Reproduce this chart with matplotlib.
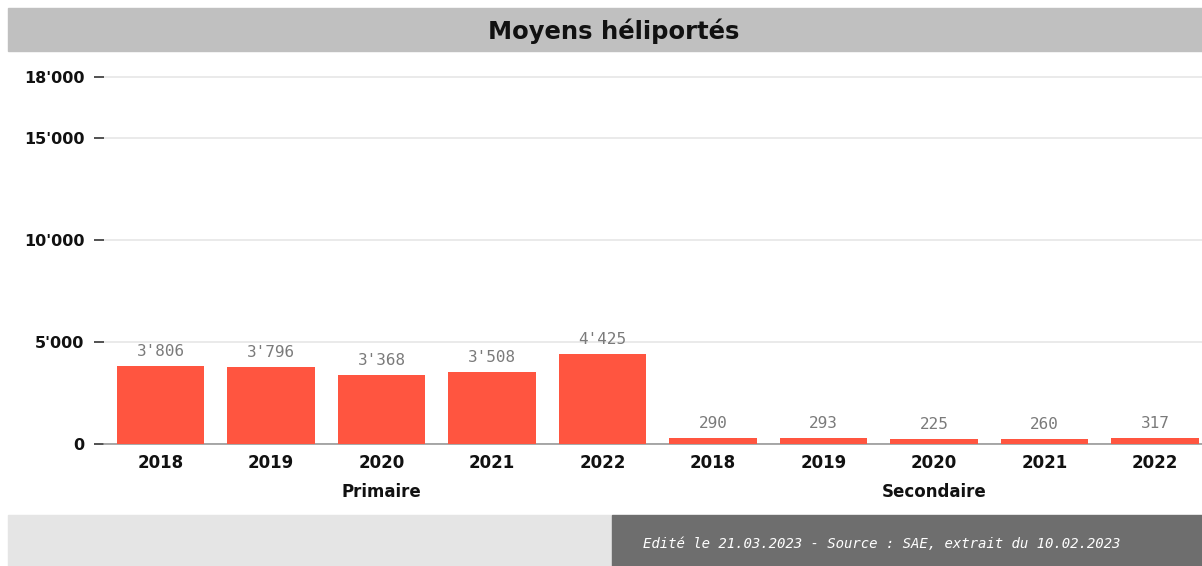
import numpy as np
import matplotlib.pyplot as plt
from matplotlib.patches import Rectangle

groups = ["Primaire", "Secondaire"]
years = ["2018", "2019", "2020", "2021", "2022"]
primaire = [3806, 3796, 3368, 3508, 4425]
secondaire = [290, 293, 225, 260, 317]
yticks = [0, 5000, 10000, 15000, 18000]

title = "Moyens héliportés"
footer = "Edité le 21.03.2023 - Source : SAE, extrait du 10.02.2023"

W, H = 1202, 566
fig = plt.figure(figsize=(W / 100, H / 100), dpi=100)
fig.patch.set_facecolor("white")

# title band and footer blocks (figure pixel coordinates)
def px_rect(x0, y0, x1, y1, color):
    fig.patches.append(Rectangle((x0 / W, 1 - y1 / H), (x1 - x0) / W, (y1 - y0) / H,
                                 transform=fig.transFigure, color=color, zorder=0))

px_rect(8, 8, W, 51, "#c0c0c0")
px_rect(8, 515, 612, H, "#e5e5e5")
px_rect(612, 515, W, H, "#6e6e6e")

fig.text(614 / W, 1 - 31 / H, title, ha="center", va="center", fontsize=17.5,
         fontweight="bold", family=["DejaVu Sans"], color="#111111")
fig.text(643 / W, 1 - 544 / H, footer, ha="left", va="center", fontsize=10.1,
         style="italic", family=["DejaVu Sans Mono"], color="white")

ax = fig.add_axes([104 / W, 1 - 444 / H, (W - 104) / W, (444 - 62) / H])
values = primaire + secondaire
labels = years + years
x = np.arange(len(values))
ax.bar(x, values, width=0.79, color="#ff5540", zorder=3)
ax.set_xlim(-0.511, 9.426)
ax.set_ylim(0, 18725)

for xi, v in zip(x, values):
    ax.annotate(f"{v:,}".replace(",", "'"), (xi, v), xytext=(0, 5), textcoords="offset points",
                ha="center", va="bottom", fontsize=11.5, family="DejaVu Sans Mono",
                color="#7a7a7a")

ax.set_yticks(yticks)
ax.set_yticklabels([f"{t:,}".replace(",", "'") for t in yticks], fontsize=11.5,
                   fontweight="bold", color="#111111")
ax.tick_params(axis="y", length=7, width=1.2, color="#333333", pad=7)
ax.grid(axis="y", color="#e6e6e6", linewidth=1.2, zorder=0)

ax.set_xticks(x)
ax.set_xticklabels(labels, fontsize=12, fontweight="bold", color="#111111")
ax.tick_params(axis="x", length=0, pad=7)

for s in ["top", "right", "left"]:
    ax.spines[s].set_visible(False)
ax.spines["bottom"].set_color("#999999")
ax.spines["bottom"].set_linewidth(1.2)

for i, g in enumerate(groups):
    ax.text(2 + 5 * i, -0.126, g, transform=ax.get_xaxis_transform(), ha="center",
            va="center", fontsize=12, fontweight="bold", color="#111111")

fig.savefig("out.png", dpi=100)
